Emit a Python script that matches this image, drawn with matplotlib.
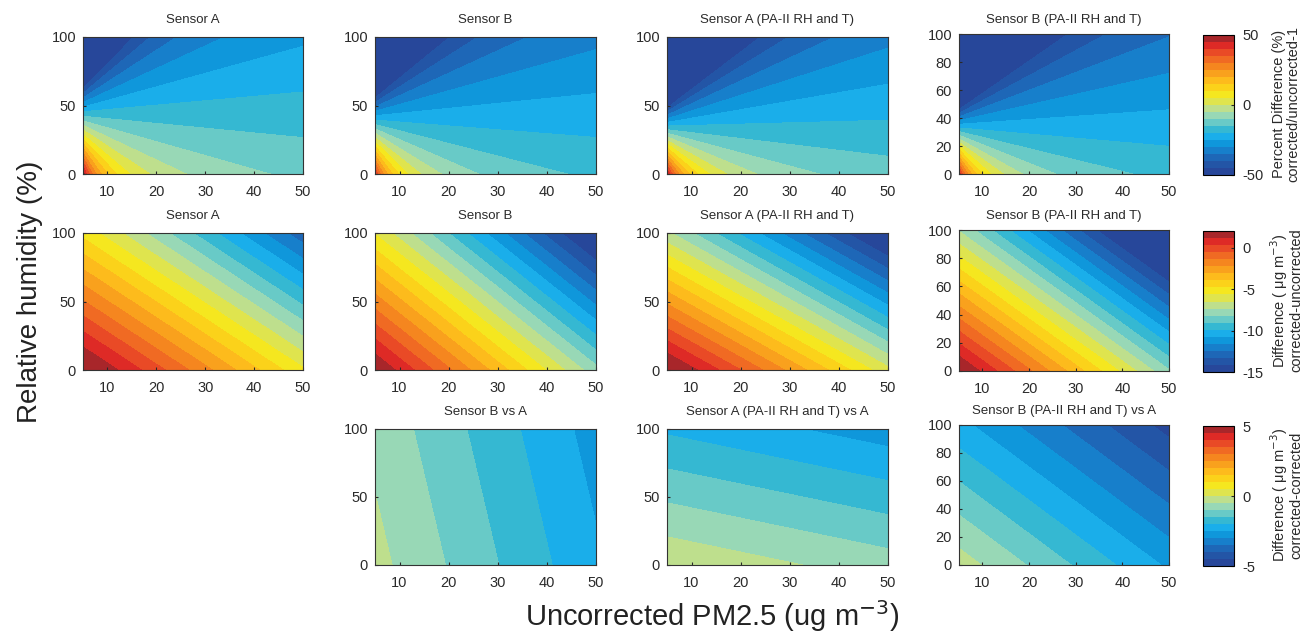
import numpy as np
import matplotlib.pyplot as plt
from matplotlib.colors import ListedColormap, BoundaryNorm
import matplotlib as mpl

plt.rcParams['font.family'] = ['Liberation Sans', 'DejaVu Sans']

# linear correction models: corrected = intercept + pm_slope*PM + rh_slope*RH
sensors = ['Sensor A', 'Sensor B', 'Sensor A (PA-II RH and T)', 'Sensor B (PA-II RH and T)']
intercepts = [3.29, 3.18, 3.28, 3.30]
pm_slopes = [0.824, 0.778, 0.809, 0.772]
rh_slopes = [-0.075, -0.078, -0.095, -0.096]

pm_range = [5, 50]
rh_range = [0, 100]

# colour bins (bottom to top)
bin_colors = ['#27479a', '#2355a6', '#1e67b7', '#177fcb', '#0f97db',
              '#1aaeea', '#35b8d2', '#68cac7', '#98d8b6', '#bedf8d',
              '#dfe44e', '#f5e71f', '#fbd21a', '#fdbb1c', '#f9a11d',
              '#f5861f', '#f06a23', '#e94a26', '#de2a26', '#a8262a']
cmap = ListedColormap(bin_colors)
cmap.set_under(bin_colors[0])
cmap.set_over(bin_colors[-1])

row_limits = [(-50, 50), (-15, 2), (-5, 5)]
row_ticks = [[-50, 0, 50], [-15, -10, -5, 0], [-5, 0, 5]]
row_labels = ['Percent Difference (%)\ncorrected/uncorrected-1',
              'Difference ( \u03bcg m$^{-3}$)\ncorrected-uncorrected',
              'Difference ( \u03bcg m$^{-3}$)\ncorrected-corrected']

W, H = 1309, 635
fig = plt.figure(figsize=(W / 100, H / 100), dpi=100)

cols_x = [(83, 303), (375, 596), (667, 888), (959, 1169)]
rows_y = [(37, 174), (233, 370), (429, 565)]
rows_y4 = [(34, 174), (230, 371), (425, 565)]


def box(x0, x1, y0, y1):
    return [x0 / W, 1 - y1 / H, (x1 - x0) / W, (y1 - y0) / H]


pm = np.linspace(pm_range[0], pm_range[1], 300)
rh = np.linspace(rh_range[0], rh_range[1], 300)
PM, RH = np.meshgrid(pm, rh)


def corrected(i):
    return intercepts[i] + pm_slopes[i] * PM + rh_slopes[i] * RH


for r in range(3):
    lo, hi = row_limits[r]
    levels = np.linspace(lo, hi, 21)
    for c in range(4):
        if r == 2 and c == 0:
            continue
        if r == 0:
            Z = 100 * (corrected(c) / PM - 1)
            title = sensors[c]
        elif r == 1:
            Z = corrected(c) - PM
            title = sensors[c]
        else:
            Z = corrected(c) - corrected(0)
            title = sensors[c] + ' vs A'
        ys = rows_y4[r] if c == 3 else rows_y[r]
        ax = fig.add_axes(box(cols_x[c][0], cols_x[c][1], ys[0], ys[1]))
        ax.contourf(PM, RH, Z, levels=levels, cmap=cmap, extend='both')
        ax.set_xlim(pm_range)
        ax.set_ylim(rh_range)
        ax.set_xticks([10, 20, 30, 40, 50])
        if c == 3:
            ax.set_yticks([0, 20, 40, 60, 80, 100])
        else:
            ax.set_yticks([0, 50, 100])
        ax.tick_params(direction='in', length=2, labelsize=10.5, colors='#2a2a2a', pad=5)
        ax.tick_params(axis='x', pad=8)
        for s in ax.spines.values():
            s.set_linewidth(0.8)
            s.set_color('#333333')
        ax.set_title(title, fontsize=9.5, color='#2a2a2a', pad=10 if c < 3 else 8)

    # colour bar
    cax = fig.add_axes(box(1203, 1234, rows_y4[r][0] + 1, rows_y4[r][1] + 1))
    norm = BoundaryNorm(levels, cmap.N)
    cb = mpl.colorbar.ColorbarBase(cax, cmap=cmap, norm=norm, boundaries=levels,
                                   ticks=row_ticks[r], spacing='proportional')
    cb.ax.minorticks_off()
    cb.outline.set_linewidth(0.8)
    cb.ax.tick_params(labelsize=10.5, length=2, direction='in', colors='#2a2a2a', pad=6)
    cb.ax.set_yticklabels([str(t) for t in row_ticks[r]])
    fig.text(1286 / W, 1 - (rows_y4[r][0] + rows_y4[r][1]) / 2 / H, row_labels[r],
             rotation=90, ha='center', va='center', fontsize=10.5, color='#2a2a2a',
             linespacing=1.0)

fig.text(30 / W, 1 - 292 / H, 'Relative humidity (%)', rotation=90,
         ha='center', va='center', fontsize=20, color='#222222')
fig.text(712 / W, 1 - 626 / H, 'Uncorrected PM2.5 (ug m$^{-3}$)',
         ha='center', va='baseline', fontsize=21, color='#222222')

fig.savefig('out.png', dpi=100)
